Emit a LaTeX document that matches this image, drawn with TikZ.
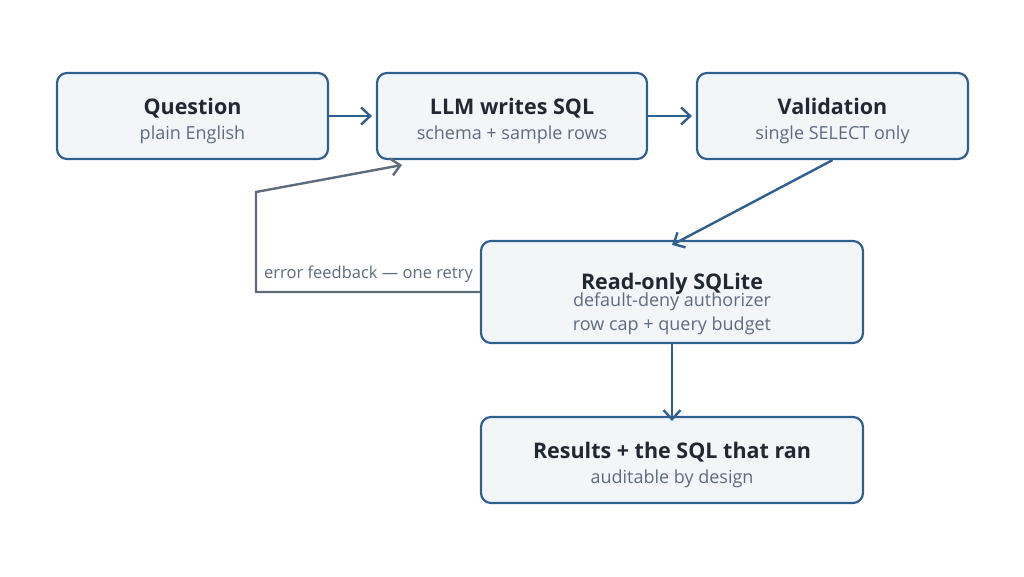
\documentclass[tikz,border=0pt]{standalone}
\usepackage{fontspec}
\setmainfont{Open Sans}
\usetikzlibrary{arrows.meta}
\definecolor{edgeblue}{HTML}{2F5F8F}
\definecolor{boxfill}{HTML}{F3F6F9}
\definecolor{titlecol}{HTML}{222831}
\definecolor{subcol}{HTML}{5F6B7D}
\definecolor{fbcol}{HTML}{5F6B7A}
\tikzset{
  box/.style={draw=edgeblue, fill=boxfill, line width=2.2pt, rounded corners=10pt, inner sep=0pt},
  ttl/.style={text=titlecol, font=\fontsize{21.5}{26}\selectfont\bfseries, inner sep=0pt},
  sub/.style={text=subcol, font=\fontsize{18}{21}\selectfont, inner sep=0pt},
  flow/.style={draw=edgeblue, line width=2.4pt, -{Straight Barb[length=9pt,width=17pt,line width=2.4pt]}},
  fb/.style={draw=fbcol, line width=2.4pt, -{Straight Barb[length=9pt,width=17pt,line width=2.4pt]}},
}
\begin{document}
\begin{tikzpicture}[x=1pt,y=-1pt]
\useasboundingbox (0,0) rectangle (1024,576);
\node[box, minimum width=271pt, minimum height=86pt] (q) at (192.5,116) {};
\node[box, minimum width=270pt, minimum height=86pt] (llm) at (512,116) {};
\node[box, minimum width=271pt, minimum height=86pt] (val) at (832.5,116) {};
\node[box, minimum width=382pt, minimum height=102pt] (ro) at (672,292) {};
\node[box, minimum width=382pt, minimum height=86pt] (res) at (672,460) {};

\node[ttl, anchor=base] (qt) at (192.5,114) {Question};
\node[sub, anchor=base] (qs) at (192.5,139) {plain English};
\node[ttl, anchor=base] (lt) at (512,114) {LLM writes SQL};
\node[sub, anchor=base] (ls) at (512,139) {schema + sample rows};
\node[ttl, anchor=base] (vt) at (832.5,114) {Validation};
\node[sub, anchor=base] (vs) at (832.5,139) {single SELECT only};
\node[ttl, anchor=base] (rt) at (672,289) {Read-only SQLite};
\node[sub, anchor=base] (rs1) at (672,306) {default-deny authorizer};
\node[sub, anchor=base] (rs2) at (672,330) {row cap + query budget};
\node[ttl, anchor=base] (et) at (672,458) {Results + the SQL that ran};
\node[sub, anchor=base] (es) at (672,483) {auditable by design};

\coordinate (c1) at (256,292);
\coordinate (c2) at (256,192);
\coordinate (c3) at (402,165);

\draw[flow] (q.east) -- ([xshift=-4pt]llm.west);
\draw[flow] (llm.east) -- ([xshift=-4pt]val.west);
\draw[flow] (val.south) -- ([yshift=-5pt]ro.north);
\draw[flow] (ro.south) -- ([yshift=-5pt]res.north);
\draw[fb] (ro.west) -- (c1) -- (c2) -- (c3);
\node[sub, font=\fontsize{16.5}{19}\selectfont, anchor=base west] (fbl) at (264,278) {error feedback — one retry};
\end{tikzpicture}
\end{document}
